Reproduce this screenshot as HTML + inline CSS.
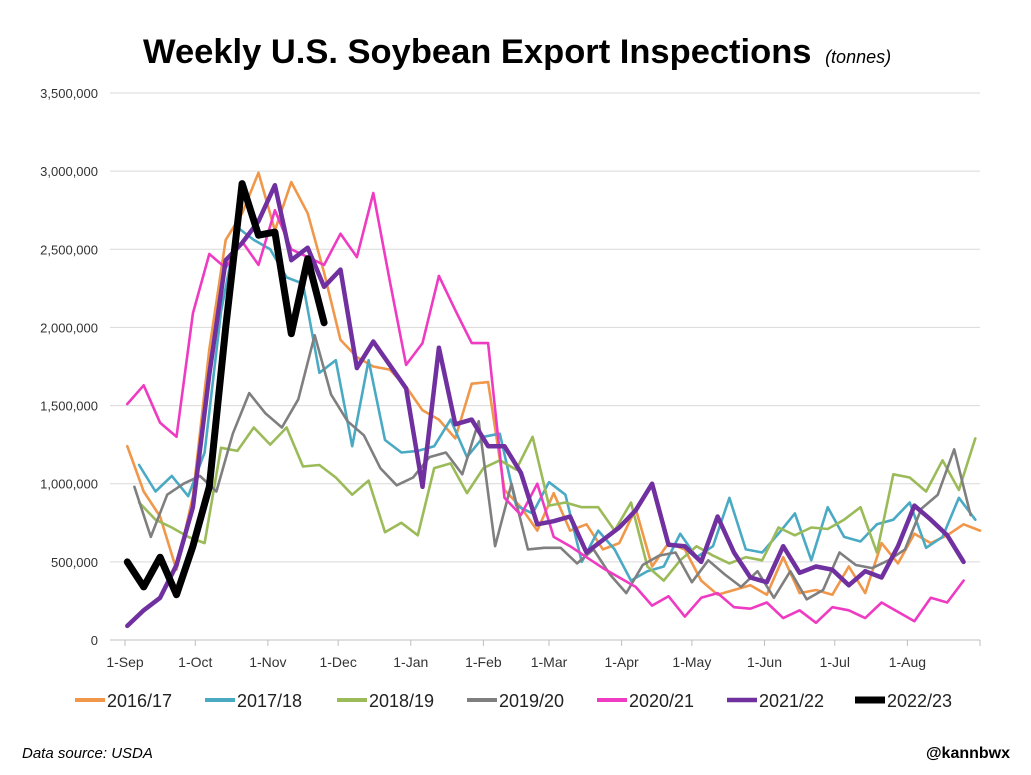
<!DOCTYPE html>
<html><head><meta charset="utf-8"><style>
body{margin:0;background:#fff;width:1031px;height:770px;overflow:hidden;font-family:"Liberation Sans",Arial,sans-serif}
</style></head><body>
<svg id="chart" width="1031" height="770" xmlns="http://www.w3.org/2000/svg" font-family="Liberation Sans, Arial, sans-serif">
<text x="143" y="63" text-anchor="start" font-size="34.5" font-weight="bold">Weekly U.S. Soybean Export Inspections <tspan font-size="18" font-weight="normal" font-style="italic" dx="4">(tonnes)</tspan></text>
<g id="grid"></g><g id="series"></g><g id="legend"></g>
<text x="22" y="758" font-size="15" font-style="italic">Data source: USDA</text>
<text x="1010" y="758" font-size="16" font-weight="bold" text-anchor="end">@kannbwx</text>
</svg>
<script>
const yTicks=[0,500000,1000000,1500000,2000000,2500000,3000000,3500000];
const yTickLabels=["0","500,000","1,000,000","1,500,000","2,000,000","2,500,000","3,000,000","3,500,000"];
const monthLabels=["1-Sep","1-Oct","1-Nov","1-Dec","1-Jan","1-Feb","1-Mar","1-Apr","1-May","1-Jun","1-Jul","1-Aug"];
const monthDays=[0,30,61,91,122,153,181,212,242,273,303,334,365];
const seasons=["2016/17","2017/18","2018/19","2019/20","2020/21","2021/22","2022/23"];
const startDays=[1,6,6,4,1,1,1];
const s1617=[1240,950,790,450,920,1860,2560,2730,2990,2620,2930,2730,2350,1920,1810,1750,1730,1620,1470,1410,1290,1640,1650,960,850,700,940,700,740,580,620,840,470,620,580,380,290,320,350,290,530,300,320,290,470,300,620,490,680,620,670,740,700];
const s1718=[1120,950,1050,920,1200,2100,2640,2560,2500,2320,2280,1710,1790,1240,1790,1280,1200,1210,1240,1410,1170,1300,1320,860,810,1010,930,500,700,580,380,440,470,680,530,600,910,580,560,680,810,510,850,660,630,740,770,880,590,660,910,770];
const s1819=[880,770,720,660,620,1230,1210,1360,1250,1360,1110,1120,1040,930,1020,690,750,670,1100,1130,940,1100,1150,1090,1300,860,880,850,850,700,880,470,380,510,600,540,490,530,510,720,670,720,710,770,850,560,1060,1040,950,1150,960,1290];
const s1920=[980,660,930,1000,1050,950,1320,1580,1450,1360,1540,1950,1570,1400,1310,1100,990,1040,1170,1200,1060,1400,600,1000,580,590,590,490,580,420,300,480,540,560,370,510,420,340,440,270,440,260,320,560,480,460,510,580,840,930,1220,800];
const s2021=[1510,1630,1390,1300,2090,2470,2380,2550,2400,2750,2500,2450,2400,2600,2450,2860,2300,1760,1900,2330,2110,1900,1900,910,800,1000,660,600,530,460,400,340,220,280,150,270,300,210,200,240,140,190,110,210,190,140,240,180,120,270,240,380];
const s2122=[90,190,270,480,850,1700,2430,2540,2680,2910,2430,2510,2260,2370,1740,1910,1760,1610,980,1870,1380,1410,1240,1240,1070,740,760,790,560,640,720,830,1000,610,600,500,790,560,400,370,600,430,470,450,350,440,400,600,860,770,670,500];
const s2223=[500,340,530,290,600,980,2000,2920,2590,2610,1960,2440,2030];
const seriesValues=[s1617,s1718,s1819,s1920,s2021,s2122,s2223];
const colors=["#f0974a","#4aaac4","#9bbb59","#7f7f7f","#ee3bc2","#7030a0","#000000"];
const widths=[2.6,2.6,2.6,2.6,2.6,4.5,7];
const NS="http://www.w3.org/2000/svg";
const X0=125,X1=980,Y0=640,Y1=93,YMAX=3500000;
function xDay(d){return X0+d*(X1-X0)/365;}
function yVal(v){return Y0-v/YMAX*(Y0-Y1);}
function mk(tag,attrs,parent){const e=document.createElementNS(NS,tag);for(const k in attrs)e.setAttribute(k,attrs[k]);parent.appendChild(e);return e;}
const grid=document.getElementById('grid');
yTicks.forEach((t,i)=>{
  if(i>0){const l=mk('line',{x1:110,x2:X1,y1:yVal(t),y2:yVal(t),stroke:'#d9d9d9','stroke-width':1},grid);
  
  }
  const tx=mk('text',{x:98,y:yVal(t)+5,'text-anchor':'end','font-size':13,fill:'#333'},grid);
  tx.textContent=yTickLabels[i];
  
  
});
const ax=mk('line',{x1:110,x2:X1,y1:Y0,y2:Y0,stroke:'#bfbfbf','stroke-width':1},grid);


monthDays.forEach(d=>{const tk=mk('line',{x1:xDay(d),x2:xDay(d),y1:Y0,y2:Y0+6,stroke:'#bfbfbf'},grid);

});
monthLabels.forEach((m,i)=>{const tx=mk('text',{x:xDay(monthDays[i]),y:667,'text-anchor':'middle','font-size':14,fill:'#333'},grid);
tx.textContent=m;

});
const sg=document.getElementById('series');
seriesValues.forEach((vals,si)=>{
  const pts=vals.map((v,i)=>xDay(startDays[si]+i*7).toFixed(1)+','+yVal(v*1000).toFixed(1)).join(' ');
  const p=mk('polyline',{points:pts,fill:'none',stroke:colors[si],'stroke-width':widths[si],'stroke-linejoin':'round','stroke-linecap':'round'},sg);
  
  
});
const lg=document.getElementById('legend');
const legX=[75,205,337,467,597,727,855];
seasons.forEach((s,i)=>{
  const l=mk('line',{x1:legX[i],x2:legX[i]+30,y1:700,y2:700,stroke:colors[i],'stroke-width':Math.max(widths[i],4)},lg);
  
  
  const t=mk('text',{x:legX[i]+32,y:707,'font-size':18,fill:'#222'},lg);
  t.textContent=s;
  
  
});
</script>
</body></html>
